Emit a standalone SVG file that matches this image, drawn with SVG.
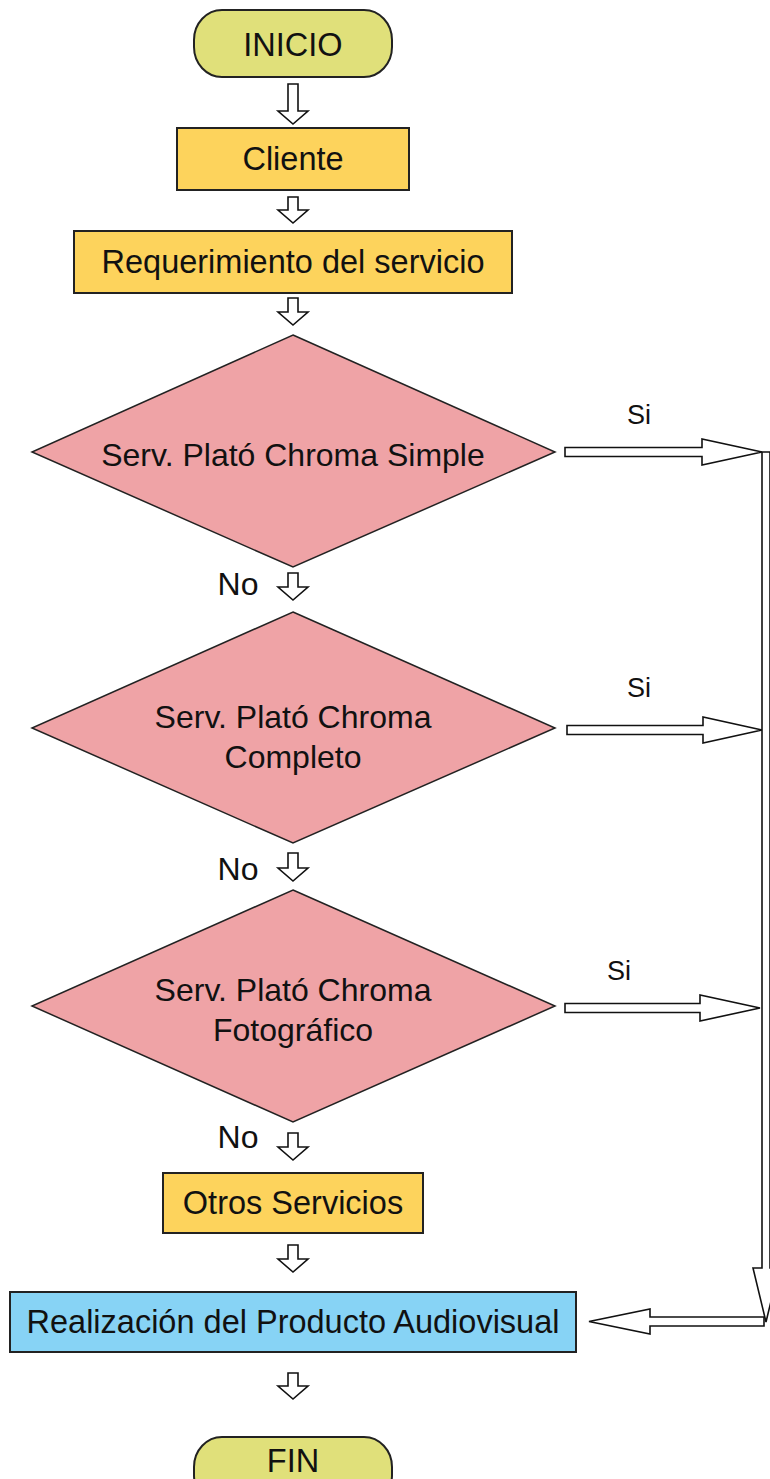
<svg xmlns="http://www.w3.org/2000/svg" width="770" height="1479" viewBox="0 0 770 1479">
<style>
text{font-family:"Liberation Sans",Arial,sans-serif;fill:#111;}
.lbl{font-size:32.5px;text-anchor:middle;}
.dl{font-size:32px;text-anchor:middle;}
.no{font-size:32px;text-anchor:middle;}
.side{font-size:27px;}
.term{fill:#e0e07a;stroke:#222;stroke-width:2;}
.box{fill:#fdd35c;stroke:#222;stroke-width:2;}
.blue{fill:#87d3f5;stroke:#222;stroke-width:2;}
.dia{fill:#efa3a6;stroke:#222;stroke-width:1.5;}
.arr{fill:#fff;stroke:#111;stroke-width:1.6;stroke-linejoin:miter;}
</style>
<rect width="770" height="1479" fill="#fff"/>
<g id="inicio"><rect class="term" x="194" y="10" width="198" height="67" rx="28" ry="30"/><text class="lbl" x="293" y="56">INICIO</text></g>
<g id="cliente"><rect class="box" x="177" y="128" width="232" height="62"/><text class="lbl" x="293" y="170">Cliente</text></g>
<g id="requerimiento"><rect class="box" x="74" y="231" width="438" height="62"/><text class="lbl" x="293" y="273">Requerimiento del servicio</text></g>
<g id="decision1"><polygon class="dia" points="293,335 555,452 293,567 32,452"/><text class="dl" x="293" y="466">Serv. Plató Chroma Simple</text></g>
<g id="decision2"><polygon class="dia" points="293,612 555,728 293,843 32,728"/><text class="dl" x="293" y="728">Serv. Plató Chroma</text><text class="dl" x="293" y="768">Completo</text></g>
<g id="decision3"><polygon class="dia" points="293,890 555,1006 293,1122 32,1006"/><text class="dl" x="293" y="1001">Serv. Plató Chroma</text><text class="dl" x="293" y="1041">Fotográfico</text></g>
<g id="otros"><rect class="box" x="163" y="1173" width="260" height="60"/><text class="lbl" x="293" y="1214">Otros Servicios</text></g>
<g id="realizacion"><rect class="blue" x="10" y="1292" width="566" height="60"/><text class="lbl" x="293" y="1333">Realización del Producto Audiovisual</text></g>
<g id="fin"><rect class="term" x="194" y="1437" width="198" height="68" rx="28" ry="30"/><text class="lbl" x="293" y="1472">FIN</text></g>
<g id="connectors">
<polygon class="arr" points="288,84 298,84 298,111 308,111 293,124 278,111 288,111"/>
<polygon class="arr" points="288,197 298,197 298,210 308,210 293,223 278,210 288,210"/>
<polygon class="arr" points="288,298 298,298 298,312 308,312 293,325 278,312 288,312"/>
<polygon class="arr" points="288,573 298,573 298,587 308,587 293,600 278,587 288,587"/>
<polygon class="arr" points="288,853 298,853 298,868 308,868 293,881 278,868 288,868"/>
<polygon class="arr" points="288,1133 298,1133 298,1147 308,1147 293,1160 278,1147 288,1147"/>
<polygon class="arr" points="288,1245 298,1245 298,1259 308,1259 293,1272 278,1259 288,1259"/>
<polygon class="arr" points="288,1373 298,1373 298,1386 308,1386 293,1399 278,1386 288,1386"/>
<polygon class="arr" points="565,447.5 702,447.5 702,439 762,452 702,465 702,456.5 565,456.5"/>
<polygon class="arr" points="567,725.5 703,725.5 703,717 762,730 703,743 703,734.5 567,734.5"/>
<polygon class="arr" points="565,1003.5 700,1003.5 700,995 760,1008 700,1021 700,1012.5 565,1012.5"/>
<polygon class="arr" points="762,452 770,452 770,1268 779,1268 766,1322 753,1268 762,1268"/>
<polygon class="arr" points="764,1317 650,1317 650,1309 589,1321.5 650,1334 650,1326 764,1326"/>
<text class="side" x="627" y="424">Si</text>
<text class="side" x="627" y="697">Si</text>
<text class="side" x="607" y="980">Si</text>
<text class="no" x="238" y="595">No</text>
<text class="no" x="238" y="880">No</text>
<text class="no" x="238" y="1148">No</text>
</g>
</svg>
